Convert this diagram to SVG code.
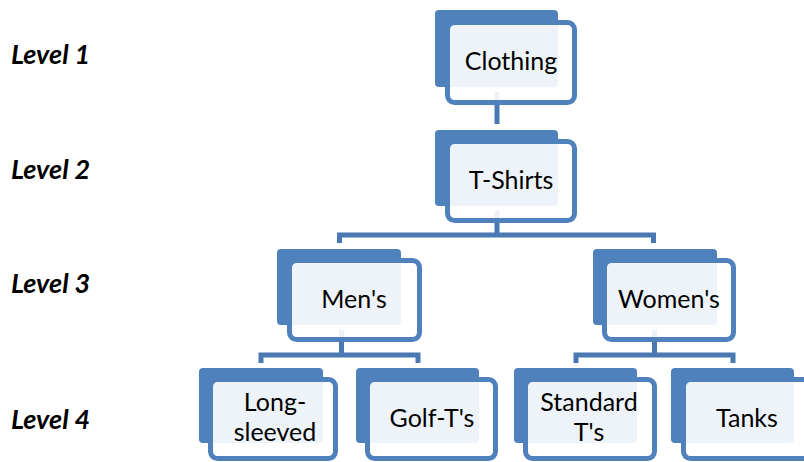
<svg xmlns="http://www.w3.org/2000/svg" width="804" height="462" viewBox="0 0 804 462">
<style>
.back{fill:#4F81BD}
.front{fill:#FFFFFF;fill-opacity:0.9;stroke:#4F81BD;stroke-width:5}
.lbl{font-family:Lato,"Open Sans",sans-serif;font-size:25px;fill:#000;text-anchor:middle}
.lvl{font-family:Lato,"Open Sans",sans-serif;font-size:27px;font-weight:bold;font-style:italic;fill:#000}
.conn{fill:none;stroke:#4A78B2;stroke-width:5}
</style>
<rect width="804" height="462" fill="#FFFFFF"/>
<g id="levels">
<text class="lvl" x="11" y="64">Level 1</text>
<text class="lvl" x="11" y="179">Level 2</text>
<text class="lvl" x="11" y="293">Level 3</text>
<text class="lvl" x="11" y="429">Level 4</text>
</g>
<g id="connectors">
<path class="conn" d="M497 92 V124"/>
<path class="conn" d="M497 211 V235"/>
<path class="conn" d="M339.5 243 V235 H653.5 V243"/>
<path class="conn" d="M341.5 330 V355"/>
<path class="conn" d="M261 363 V355 H418 V363"/>
<path class="conn" d="M654.5 330 V355"/>
<path class="conn" d="M576 363 V355 H733 V363"/>
</g>
<g id="clothing">
<rect class="back" x="435" y="10" width="123" height="77" rx="4"/>
<rect class="front" x="447.5" y="22.5" width="127" height="80" rx="7"/>
<text class="lbl" x="511" y="70">Clothing</text>
</g>
<g id="tshirts">
<rect class="back" x="435" y="130" width="123" height="76" rx="4"/>
<rect class="front" x="447.5" y="141.5" width="127" height="79" rx="7"/>
<text class="lbl" x="511" y="189">T-Shirts</text>
</g>
<g id="mens">
<rect class="back" x="277" y="249" width="124" height="76" rx="4"/>
<rect class="front" x="289.5" y="260.5" width="130" height="79" rx="7"/>
<text class="lbl" x="354" y="308">Men's</text>
</g>
<g id="womens">
<rect class="back" x="593" y="249" width="124" height="76" rx="4"/>
<rect class="front" x="604.5" y="260.5" width="129" height="79" rx="7"/>
<text class="lbl" x="669" y="308">Women's</text>
</g>
<g id="longsleeved">
<rect class="back" x="199" y="368" width="124" height="75" rx="4"/>
<rect class="front" x="210.5" y="379.5" width="125" height="79" rx="7"/>
<text class="lbl" x="275" y="411">Long-</text>
<text class="lbl" x="275" y="441">sleeved</text>
</g>
<g id="golft">
<rect class="back" x="356" y="368" width="123" height="75" rx="4"/>
<rect class="front" x="367.5" y="379.5" width="128" height="79" rx="7"/>
<text class="lbl" x="432" y="427">Golf-T's</text>
</g>
<g id="standard">
<rect class="back" x="514" y="368" width="123" height="75" rx="4"/>
<rect class="front" x="525.5" y="379.5" width="129" height="79" rx="7"/>
<text class="lbl" x="589" y="411">Standard</text>
<text class="lbl" x="589" y="441">T's</text>
</g>
<g id="tanks">
<rect class="back" x="671" y="368" width="123" height="75" rx="4"/>
<rect class="front" x="683.5" y="379.5" width="129" height="79" rx="7"/>
<text class="lbl" x="747" y="427">Tanks</text>
</g>
</svg>
